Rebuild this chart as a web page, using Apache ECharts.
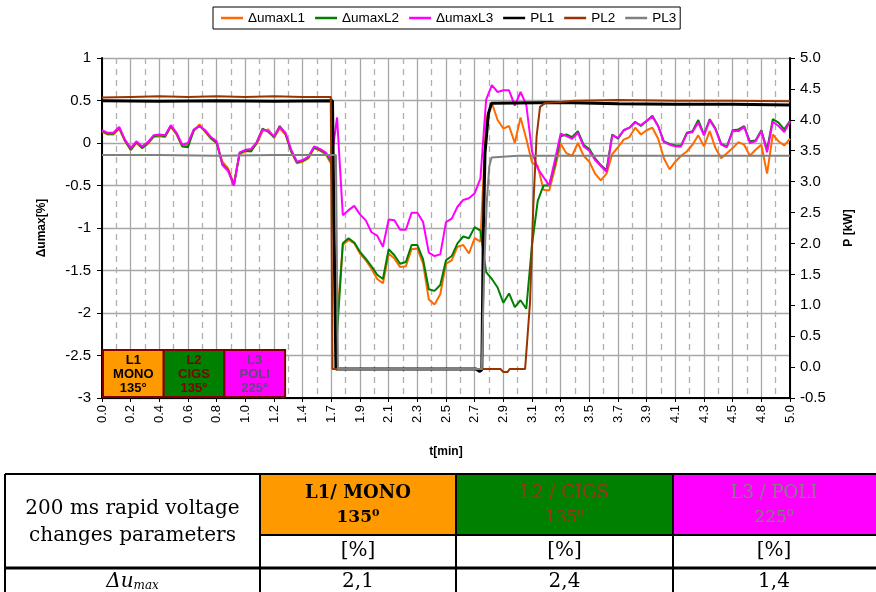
<!DOCTYPE html>
<html>
<head>
<meta charset="utf-8">
<script src="https://cdn.jsdelivr.net/npm/echarts@6/dist/echarts.min.js"></script>
<style>
  html, body { margin: 0; padding: 0; background: #fff; }
  #chart { width: 876px; height: 592px; }
</style>
</head>
<body>
<div id="chart"></div>
<script>
// tick labels of the time axis (one per major gridline)
const tickLabels = ['0.0','0.2','0.4','0.6','0.8','1.0','1.2','1.4','1.7','1.9','2.1','2.3','2.5',
  '2.7','2.9','3.1','3.3','3.5','3.7','3.9','4.1','4.3','4.5','4.8','5.0'];
const sampleStep = 0.2; // voltage samples every 1/5 of a tick interval

// Δumax per phase [%]
const uL1 = [
  0.13,0.1,0.1,0.17,0.02,-0.08,0.0,-0.06,-0.01,0.07,
  0.08,0.07,0.19,0.1,-0.04,-0.02,0.14,0.22,0.13,0.05,
  0.0,-0.22,-0.3,-0.48,-0.13,-0.1,-0.09,-0.01,0.14,0.16,
  0.06,0.17,0.1,-0.1,-0.24,-0.22,-0.18,-0.06,-0.09,-0.13,
  -0.25,-2.1,-1.2,-1.14,-1.18,-1.3,-1.38,-1.48,-1.6,-1.65,
  -1.3,-1.36,-1.46,-1.45,-1.25,-1.24,-1.42,-1.84,-1.9,-1.78,
  -1.42,-1.38,-1.22,-1.2,-1.3,-1.12,-1.16,0.28,0.47,0.27,
  0.17,0.2,0.0,0.3,0.05,-0.23,-0.27,-0.55,-0.56,-0.3,
  -0.01,-0.12,-0.15,0.0,-0.15,-0.22,-0.36,-0.44,-0.36,-0.13,
  -0.05,0.04,0.07,0.18,0.1,0.15,0.18,0.05,-0.18,-0.31,
  -0.22,-0.15,-0.1,-0.02,0.09,-0.04,0.14,-0.06,-0.18,-0.12,
  -0.06,0.01,-0.02,-0.15,-0.08,-0.02,-0.36,0.1,0.02,-0.03,
  0.05
];
const uL2 = [
  0.14,0.11,0.11,0.18,0.03,-0.08,0.01,-0.06,0.0,0.08,
  0.09,0.08,0.2,0.11,-0.04,-0.05,0.15,0.2,0.14,0.06,
  0.0,-0.25,-0.32,-0.5,-0.12,-0.09,-0.1,0.01,0.17,0.13,
  0.07,0.2,0.11,-0.1,-0.23,-0.21,-0.17,-0.05,-0.08,-0.12,
  -0.22,-2.25,-1.18,-1.12,-1.17,-1.28,-1.36,-1.45,-1.55,-1.6,
  -1.25,-1.32,-1.42,-1.4,-1.2,-1.2,-1.37,-1.72,-1.74,-1.67,
  -1.38,-1.33,-1.18,-1.1,-1.12,-0.99,-1.03,-1.52,-1.6,-1.7,
  -1.88,-1.77,-1.93,-1.85,-1.95,-1.2,-0.68,-0.5,-0.5,-0.25,
  0.08,0.1,0.07,0.14,-0.02,-0.07,-0.18,-0.26,-0.32,0.1,
  0.05,0.15,0.18,0.25,0.2,0.26,0.32,0.2,0.02,-0.01,
  -0.03,-0.03,0.12,0.14,0.27,0.1,0.28,0.17,-0.01,-0.04,
  0.15,0.16,0.2,0.02,0.03,0.15,-0.08,0.28,0.24,0.16,
  0.26
];
const uL3 = [
  0.15,0.12,0.12,0.19,0.04,-0.06,0.02,-0.04,0.01,0.09,
  0.1,0.09,0.21,0.12,-0.02,0.0,0.16,0.2,0.15,0.07,
  0.02,-0.26,-0.33,-0.5,-0.11,-0.08,-0.07,0.01,0.16,0.14,
  0.08,0.19,0.12,-0.08,-0.22,-0.2,-0.16,-0.04,-0.07,-0.11,
  -0.2,0.3,-0.85,-0.79,-0.74,-0.84,-0.91,-1.05,-1.09,-1.22,
  -0.9,-0.91,-1.02,-1.02,-0.82,-0.82,-0.93,-1.29,-1.33,-1.31,
  -0.93,-0.89,-0.75,-0.67,-0.65,-0.59,-0.42,0.51,0.68,0.6,
  0.62,0.62,0.44,0.6,0.45,-0.1,-0.3,-0.4,-0.5,-0.2,
  0.11,0.08,0.05,0.12,-0.04,-0.09,-0.2,-0.27,-0.34,0.09,
  0.06,0.15,0.18,0.24,0.21,0.26,0.31,0.2,0.01,-0.02,
  -0.04,-0.04,0.11,0.13,0.24,0.09,0.27,0.16,-0.02,-0.05,
  0.14,0.14,0.19,0.0,0.02,0.14,-0.11,0.25,0.2,0.13,
  0.25
];

// power per phase [kW], as [tick position, value]
const pL1 = [[0,4.31],[2,4.3],[4,4.31],[6,4.3],[8.04,4.31],[8.1,2.0],[8.16,-0.03],[13.05,-0.03],
  [13.18,-0.07],[13.25,-0.04],[13.3,2.11],[13.36,3.46],[13.48,4.1],[13.59,4.27],[16,4.28],
  [18,4.26],[20,4.25],[22,4.25],[24,4.24]];
const pL2 = [[0,4.36],[1,4.37],[2,4.38],[3,4.37],[4,4.38],[5,4.37],[6,4.38],[7,4.37],[7.98,4.37],
  [8.04,-0.03],[13.9,-0.03],[14.0,-0.08],[14.15,-0.08],[14.22,-0.03],[14.76,-0.03],[14.93,1.04],
  [15.05,2.65],[15.16,3.73],[15.28,4.21],[15.45,4.27],[16.5,4.31],[18,4.32],[20,4.31],[22,4.31],[24,4.3]];
const pL3 = [[0,3.43],[2,3.43],[4,3.42],[6,3.43],[8.16,3.43],[8.23,-0.03],[13.25,-0.03],[13.33,1.57],
  [13.42,2.65],[13.51,3.25],[13.59,3.39],[14.5,3.42],[17,3.42],[20,3.42],[24,3.42]];

const seriesNames = ['ΔumaxL1','ΔumaxL2','ΔumaxL3','PL1','PL2','PL3'];
const seriesColors = ['#ff6a00','#008000','#ff00ff','#000000','#993300','#808080'];

const boxLabels = ['L1\nMONO\n135°','L2\nCIGS\n135°','L3\nPOLI\n225°'];
const boxFills = ['#ff9900','#008000','#ff00ff'];
const boxText = ['#000000','#800000','#5e4a7e'];

const tableTitle = '200 ms rapid voltage\nchanges parameters';
const tableHeads = ['L1/ MONO','L2 / CIGS','L3 / POLI'];
const tableAngles = ['135⁰','135⁰','225⁰'];
const tableUnits = ['[%]','[%]','[%]'];
const tableValues = ['2,1','2,4','1,4'];
const tableHeadText = ['#000000','#a0331a','#808080'];

function toPairs(arr) {
  return arr.map(function (v, i) { return [i * sampleStep, v]; });
}

const chart = echarts.init(document.getElementById('chart'));

const uData = [uL1, uL2, uL3];
const pData = [pL1, pL2, pL3];
const series = [];
for (let i = 0; i < 3; i++) {
  series.push({
    name: seriesNames[i], type: 'line', yAxisIndex: 0, data: toPairs(uData[i]),
    symbol: 'none', lineStyle: {color: seriesColors[i], width: 2}, itemStyle: {color: seriesColors[i]}
  });
}
for (let i = 0; i < 3; i++) {
  series.push({
    name: seriesNames[i + 3], type: 'line', yAxisIndex: 1, data: pData[i],
    symbol: 'none', lineStyle: {color: seriesColors[i + 3], width: i === 0 ? 3 : 2},
    itemStyle: {color: seriesColors[i + 3]}
  });
}

// overlay boxes + table below the plot
const graphic = [];
boxLabels.forEach(function (txt, i) {
  const x = 103 + i * 60.7;
  graphic.push({type: 'rect', z: 100, shape: {x: x, y: 350, width: 60.7, height: 47},
    style: {fill: boxFills[i], stroke: '#800000', lineWidth: 2}});
  graphic.push({type: 'text', z: 101, style: {text: txt, x: x + 30.3, y: 374,
    font: 'bold 13px "Liberation Sans", Arial', fill: boxText[i], lineHeight: 14,
    align: 'center', verticalAlign: 'middle', textAlign: 'center', textVerticalAlign: 'middle'}});
});

const colX = [5, 260, 456, 673, 880];
const rowY = [474, 535, 568, 604];
const serif = '"DejaVu Serif", "Liberation Serif", serif';
for (let c = 0; c < 3; c++) {
  graphic.push({type: 'rect', shape: {x: colX[c + 1], y: rowY[0], width: colX[c + 2] - colX[c + 1], height: rowY[1] - rowY[0]},
    style: {fill: boxFills[c]}});
}
// table lines
graphic.push({type: 'line', shape: {x1: colX[0], y1: rowY[0], x2: 876, y2: rowY[0]}, style: {stroke: '#000', lineWidth: 2}});
graphic.push({type: 'line', shape: {x1: colX[1], y1: rowY[1], x2: 876, y2: rowY[1]}, style: {stroke: '#000', lineWidth: 2}});
graphic.push({type: 'line', shape: {x1: colX[0], y1: rowY[2], x2: 876, y2: rowY[2]}, style: {stroke: '#000', lineWidth: 3}});
for (let c = 0; c < 4; c++) {
  graphic.push({type: 'line', shape: {x1: colX[c], y1: rowY[0], x2: colX[c], y2: 592}, style: {stroke: '#000', lineWidth: 2}});
}
function cellText(txt, cx, cy, font, fill, extra) {
  const st = {text: txt, x: cx, y: cy, font: font, fill: fill,
    align: 'center', verticalAlign: 'middle', textAlign: 'center', textVerticalAlign: 'middle'};
  if (extra) Object.assign(st, extra);
  graphic.push({type: 'text', style: st});
}
cellText(tableTitle, (colX[0] + colX[1]) / 2, 522, '20px ' + serif, '#000', {lineHeight: 27});
for (let c = 0; c < 3; c++) {
  const cx = c < 2 ? (colX[c + 1] + colX[c + 2]) / 2 : 774;
  const w = c === 0 ? 'bold ' : '';
  cellText(tableHeads[c], cx, 493, w + '18px ' + serif, tableHeadText[c]);
  cellText(tableAngles[c], cx, 518, w + '17px ' + serif, tableHeadText[c]);
  cellText(tableUnits[c], cx, 551, '20px ' + serif, '#000');
  cellText(tableValues[c], cx, 582, '20px ' + serif, '#000');
}
graphic.push({type: 'text', style: {text: '{a|Δu}{b|max}', x: (colX[0] + colX[1]) / 2, y: 582,
  align: 'center', verticalAlign: 'middle', textAlign: 'center', textVerticalAlign: 'middle',
  rich: {a: {font: 'italic 20px ' + serif, fill: '#000'}, b: {font: 'italic 12px ' + serif, fill: '#000', padding: [8, 0, 0, 0]}}}});

const option = {
  animation: false,
  backgroundColor: '#fff',
  textStyle: {fontFamily: '"Liberation Sans", Arial, sans-serif'},
  legend: {
    data: seriesNames, top: 7, left: 213, padding: [4, 4, 4, 8], itemGap: 10,
    icon: 'rect', itemWidth: 22, itemHeight: 2.5, borderColor: '#000', borderWidth: 1, borderRadius: 0,
    textStyle: {fontSize: 13.5, color: '#000', padding: [0, 0, 0, 0]}
  },
  grid: {left: 102, right: 86, top: 58, bottom: 194, outerBoundsMode: 'none'},
  xAxis: {
    type: 'value', min: 0, max: 24, interval: 1,
    axisLine: {onZero: false, lineStyle: {color: '#000', width: 2}},
    axisTick: {length: 4, lineStyle: {color: '#000'}},
    axisLabel: {rotate: 90, fontSize: 13, color: '#000', margin: 7,
      formatter: function (v) { return tickLabels[Math.round(v)]; }},
    splitLine: {show: true, lineStyle: {color: '#a6a6a6', width: 1.3}},
    minorTick: {show: false, splitNumber: 2},
    minorSplitLine: {show: true, lineStyle: {color: '#b0b0b0', width: 1.3, type: [6, 5]}},
    name: 't[min]', nameLocation: 'middle', nameGap: 48,
    nameTextStyle: {fontWeight: 'bold', fontSize: 12, color: '#000'}
  },
  yAxis: [{
    type: 'value', min: -3, max: 1, interval: 0.5, position: 'left',
    axisLine: {show: true, onZero: false, lineStyle: {color: '#000', width: 2}},
    axisTick: {show: true, length: 5, lineStyle: {color: '#000'}},
    axisLabel: {fontSize: 15, color: '#000', margin: 11},
    splitLine: {show: true, lineStyle: {color: '#a6a6a6', width: 1.3}},
    name: 'Δumax[%]', nameLocation: 'middle', nameGap: 54, nameRotate: 90,
    nameTextStyle: {fontWeight: 'bold', fontSize: 12, color: '#000'}
  }, {
    type: 'value', min: -0.5, max: 5, interval: 0.5, position: 'right',
    axisLine: {show: true, onZero: false, lineStyle: {color: '#000', width: 2}},
    axisTick: {show: true, length: 5, lineStyle: {color: '#000'}},
    axisLabel: {fontSize: 15, color: '#000', margin: 10,
      formatter: function (v) { return v.toFixed(1); }},
    splitLine: {show: false},
    name: 'P [kW]', nameLocation: 'middle', nameGap: 53, nameRotate: 90,
    nameTextStyle: {fontWeight: 'bold', fontSize: 12, color: '#000'}
  }],
  series: series,
  graphic: graphic
};
chart.setOption(option);
</script>
</body>
</html>
